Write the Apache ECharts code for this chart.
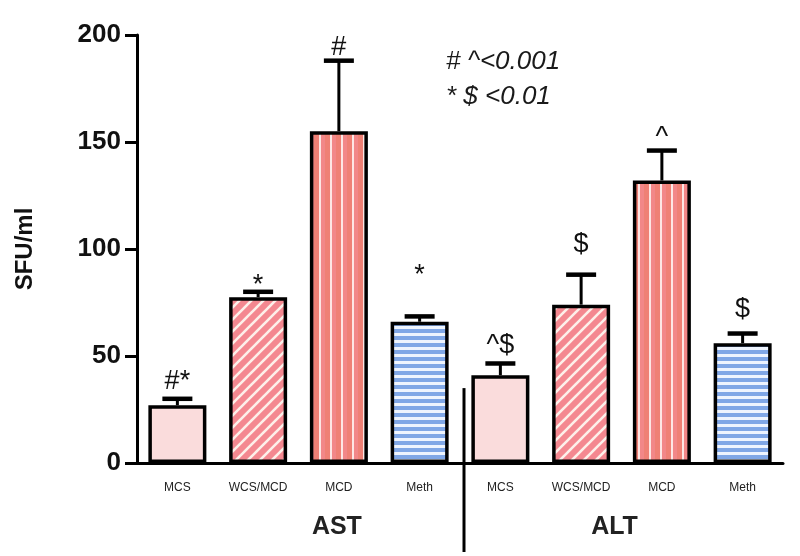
<!DOCTYPE html>
<html>
<head>
<meta charset="utf-8">
<script src="https://cdn.jsdelivr.net/npm/echarts@6/dist/echarts.min.js"></script>
<style>
html,body{margin:0;padding:0;background:#fff;}
#chart{width:800px;height:556px;}
</style>
</head>
<body>
<div id="chart"></div>
<script>
// ---- data ----
const categories = ['MCS', 'WCS/MCD', 'MCD', 'Meth', 'MCS', 'WCS/MCD', 'MCD', 'Meth'];
const groupNames = ['AST', 'ALT'];
const means = [27, 77.5, 155, 66, 41, 74, 132, 56];
const errors = [3, 2.5, 33, 2.5, 5.5, 14, 14, 4.5];
const marks = ['#*', '*', '#', '*', '^$', '$', '^', '$'];
const markAt = [38, 83, 194, 87.5, 55, 102, 152, 71.5];
const yMin = 0, yMax = 200, yStep = 50;
const noteLines = ['# ^<0.001', '* $ <0.01'];

// ---- patterns ----
function tile(w, h, draw) {
  const c = document.createElement('canvas');
  c.width = w; c.height = h;
  draw(c.getContext('2d'), w, h);
  return c;
}
const diagTile = tile(12, 12, (g, w, h) => {
  g.fillStyle = '#f48890'; g.fillRect(0, 0, w, h);
  g.strokeStyle = '#fdf0ea'; g.lineWidth = 2.6;
  [[-6, 6, 6, -6], [0, 12, 12, 0], [6, 18, 18, 6]].forEach(s => {
    g.beginPath(); g.moveTo(s[0], s[1]); g.lineTo(s[2], s[3]); g.stroke();
  });
});
const vertTile = tile(11, 4, (g, w, h) => {
  g.fillStyle = '#f28788'; g.fillRect(0, 0, w, h);
  g.fillStyle = '#ef8075'; g.fillRect(6, 0, 5, h);
  g.fillStyle = '#fde6e4'; g.fillRect(0, 0, 2, h);
});
const horzTile = tile(4, 7, (g, w, h) => {
  g.fillStyle = '#80a7e6'; g.fillRect(0, 0, w, h);
  g.fillStyle = '#eef4fe'; g.fillRect(0, 4, w, 3);
});
const fills = [
  '#fadcdc',
  { image: diagTile, repeat: 'repeat' },
  { image: vertTile, repeat: 'repeat' },
  { image: horzTile, repeat: 'repeat' }
];

const FONT = '"Liberation Sans", Arial, sans-serif';
const chart = echarts.init(document.getElementById('chart'));

const barData = means.map((v, i) => ({
  value: v,
  itemStyle: { color: fills[i % 4] }
}));

chart.setOption({
  animation: false,
  backgroundColor: '#ffffff',
  grid: { left: 137, right: 17, top: 35, bottom: 93 },
  xAxis: {
    type: 'category',
    data: categories,
    axisLine: { lineStyle: { color: '#000', width: 3 } },
    axisTick: { alignWithLabel: true, length: 13, lineStyle: { color: '#111', width: 3 } },
    axisLabel: { interval: 0, hideOverlap: false, margin: 19, fontSize: 12, fontFamily: FONT, color: '#222' }
  },
  yAxis: {
    type: 'value',
    min: yMin, max: yMax, interval: yStep,
    name: 'SFU/ml',
    nameLocation: 'middle',
    nameGap: 100,
    nameRotate: 90,
    nameTextStyle: { fontSize: 24, fontWeight: 'bold', fontFamily: FONT, color: '#111' },
    axisLine: { show: true, lineStyle: { color: '#000', width: 3 } },
    axisTick: { show: true, length: 12, lineStyle: { color: '#000', width: 3 } },
    axisLabel: { margin: 16, fontSize: 26, fontWeight: 'bold', fontFamily: FONT, color: '#111' },
    splitLine: { show: false }
  },
  graphic: noteLines.map((t, k) => ({
    type: 'text',
    left: 446,
    top: 49 + k * 35,
    style: { text: t, font: 'italic 26px ' + FONT, fill: '#1a1a1a' }
  })),
  series: [
    {
      type: 'bar',
      data: barData,
      barWidth: 58,
      itemStyle: { borderColor: '#000', borderWidth: 3.5 },
      z: 2
    },
    {
      type: 'custom',
      clip: false,
      z: 3,
      data: means.map((m, i) => [i, m, errors[i], markAt[i]]),
      encode: { x: 0, y: 1 },
      renderItem: (params, api) => {
        const i = api.value(0), m = api.value(1), e = api.value(2), la = api.value(3);
        const base = api.coord([i, m]);
        const top = api.coord([i, m + e]);
        const lab = api.coord([i, la]);
        const half = 15;
        return {
          type: 'group',
          children: [
            { type: 'line', shape: { x1: base[0], y1: base[1], x2: top[0], y2: top[1] },
              style: { stroke: '#000', lineWidth: 3 } },
            { type: 'line', shape: { x1: top[0] - half, y1: top[1], x2: top[0] + half, y2: top[1] },
              style: { stroke: '#000', lineWidth: 4.5 } },
            { type: 'text', x: lab[0], y: lab[1],
              style: { text: marks[params.dataIndex], font: '27px ' + FONT, fill: '#111',
                       textAlign: 'center', textVerticalAlign: 'middle' } }
          ]
        };
      }
    },
    {
      type: 'custom',
      clip: false,
      z: 4,
      data: [[0, 35]],
      encode: { x: 0, y: 1 },
      renderItem: (params, api) => {
        const cs = params.coordSys;
        const a = api.coord([3, 0]), b = api.coord([4, 0]);
        const sepX = (a[0] + b[0]) / 2 + 4;
        const topY = api.coord([0, api.value(1)])[1];
        const bottom = cs.y + cs.height;
        const astX = api.coord([2, 0])[0] - 2;
        const altX = (api.coord([5, 0])[0] + api.coord([6, 0])[0]) / 2 - 7;
        const gFont = 'bold 25px ' + FONT;
        return {
          type: 'group',
          children: [
            { type: 'line', shape: { x1: sepX, y1: topY, x2: sepX, y2: bottom + 89 },
              style: { stroke: '#000', lineWidth: 3 } },
            { type: 'text', x: astX, y: bottom + 64,
              style: { text: groupNames[0], font: gFont, fill: '#222', textAlign: 'center', textVerticalAlign: 'middle' } },
            { type: 'text', x: altX, y: bottom + 64,
              style: { text: groupNames[1], font: gFont, fill: '#222', textAlign: 'center', textVerticalAlign: 'middle' } }
          ]
        };
      }
    }
  ]
});
</script>
</body>
</html>
